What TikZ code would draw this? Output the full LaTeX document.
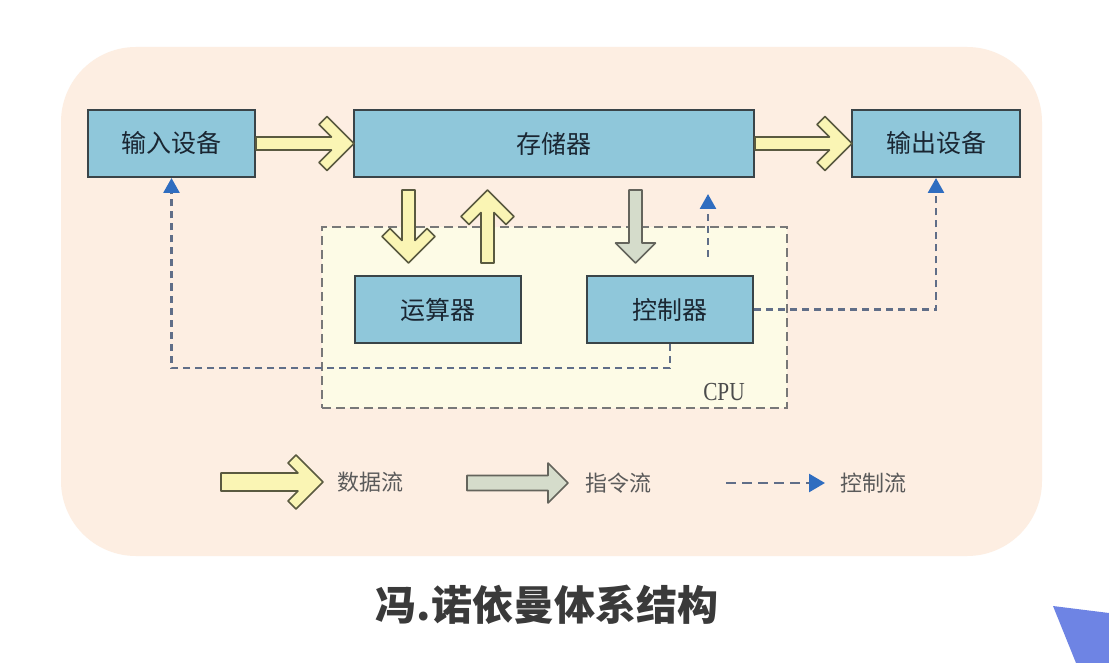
\documentclass[tikz,border=0pt]{standalone}
\usepackage{fontspec}
\setmainfont{Liberation Serif}
\newfontfamily\cjk{Noto Sans CJK SC}
\usetikzlibrary{arrows.meta,calc}
\definecolor{bgpeach}{RGB}{253,238,226}
\definecolor{boxfill}{RGB}{143,199,218}
\definecolor{boxline}{RGB}{58,68,72}
\definecolor{boxtext}{RGB}{26,38,50}
\definecolor{cpufill}{RGB}{253,251,230}
\definecolor{cpuline}{RGB}{120,120,120}
\definecolor{ctrlline}{RGB}{96,110,136}
\definecolor{ctrlhead}{RGB}{47,109,192}
\definecolor{yfill}{RGB}{250,245,180}
\definecolor{yline}{RGB}{90,90,64}
\definecolor{gfill}{RGB}{213,220,203}
\definecolor{gline}{RGB}{100,100,92}
\definecolor{legtext}{RGB}{90,90,90}
\definecolor{titlecol}{RGB}{58,58,58}
\definecolor{bluepoly}{RGB}{110,132,228}
\newcommand\chevarrow[7]{%
  \path[#1, shift={#2}, rotate=#3] (0,#5) -- ({#4-2*#7-#5},#5) -- ({#4-#6-#7},{#6-#7}) -- ({#4-#6},#6) -- (#4,0) -- ({#4-#6},-#6) -- ({#4-#6-#7},{-(#6-#7)}) -- ({#4-2*#7-#5},-#5) -- (0,-#5) -- cycle;}
\newcommand\blockarrow[7]{%
  \path[#1, shift={#2}, rotate=#3] (0,#5) -- ({#4-#7},#5) -- ({#4-#7},#6) -- (#4,0) -- ({#4-#7},-#6) -- ({#4-#7},-#5) -- (0,-#5) -- cycle;}
\tikzset{
  unit/.style={draw=boxline, fill=boxfill, line width=2pt, minimum height=67pt, inner sep=0pt,
    font=\cjk\fontsize{25}{30}\selectfont, text=boxtext},
  cpubox/.style={draw=cpuline, fill=cpufill, line width=2.7pt, dash pattern=on 9pt off 5pt,
    minimum width=465pt, minimum height=181pt, inner sep=0pt},
  ctrl/.style={draw=ctrlline, line width=2.7pt, dash pattern=on 7pt off 5pt,
    -{Triangle[length=15pt,width=16pt,color=ctrlhead]}},
  dataflow/.style={fill=yfill, draw=yline, line width=1.6pt, line join=round},
  instrflow/.style={fill=gfill, draw=gline, line width=1.6pt, line join=round},
  legendtext/.style={font=\cjk\fontsize{22}{26}\selectfont, text=legtext, anchor=west, inner sep=0pt},
}
\begin{document}
\begin{tikzpicture}[x=1pt,y=-1pt]
\fill[white] (0,0) rectangle (1109,663);
\useasboundingbox (0,0) rectangle (1109,663);
\fill[bgpeach, rounded corners=75pt] (61,47) rectangle (1042,556);
\fill[bluepoly] (1053,606) -- (1109,613) -- (1109,663) -- (1076,663) -- cycle;

% CPU box
\node[cpubox] (cpu) at (554.5,317.5) {};
\node[font=\fontsize{26}{30}\selectfont, text=black!70, xscale=0.82, transform shape, inner sep=0pt] (cpulabel) at (724,392) {CPU};

% units
\node[unit, minimum width=167pt] (in) at (171.5,143.5) {输入设备};
\node[unit, minimum width=400pt] (mem) at (554,143.5) {存储器};
\node[unit, minimum width=168pt] (out) at (936,143.5) {输出设备};
\node[unit, minimum width=166pt] (alu) at (438,309.5) {运算器};
\node[unit, minimum width=166pt] (ctl) at (670,309.5) {控制器};

% data flow arrows
\chevarrow{dataflow}{(in.east)}{0}{98}{6.5}{27}{8}
\chevarrow{dataflow}{(mem.east)}{0}{97}{6.5}{27}{8}
\chevarrow{dataflow}{(408.5,190)}{-90}{73}{6.5}{26.5}{8}
\chevarrow{dataflow}{(487.5,263)}{90}{73}{6.5}{26.5}{8}

% instruction flow
\blockarrow{instrflow}{(635.5,190)}{-90}{73}{6.5}{20}{20}

% control flow
\coordinate (cup) at (708,257);
\draw[ctrl] (ctl.south) -- ++(0,24) -| (in.south);
\draw[ctrl] (ctl.east) -| (out.south);
\draw[ctrl] (cup) -- ($(cup |- mem.south)+(0,16)$);

% legend
\chevarrow{dataflow}{(221,482)}{0}{102}{9}{27}{8}
\node[legendtext] (l1) at (337,482) {数据流};
\blockarrow{instrflow}{(467,483)}{0}{101}{7.5}{20}{20}
\node[legendtext] (l2) at (585,483) {指令流};
\coordinate (l3a) at (726,483);
\coordinate (l3b) at (825,483);
\draw[ctrl, dash pattern=on 10pt off 6pt, -{Triangle[length=16pt,width=18pt,color=ctrlhead]}] (l3a) -- (l3b);
\node[legendtext] (l3) at (840,483) {控制流};

% title
\node[font=\cjk\bfseries\fontsize{41}{47}\selectfont, text=titlecol] (title) at (547,605) {冯.诺依曼体系结构};
\end{tikzpicture}
\end{document}
